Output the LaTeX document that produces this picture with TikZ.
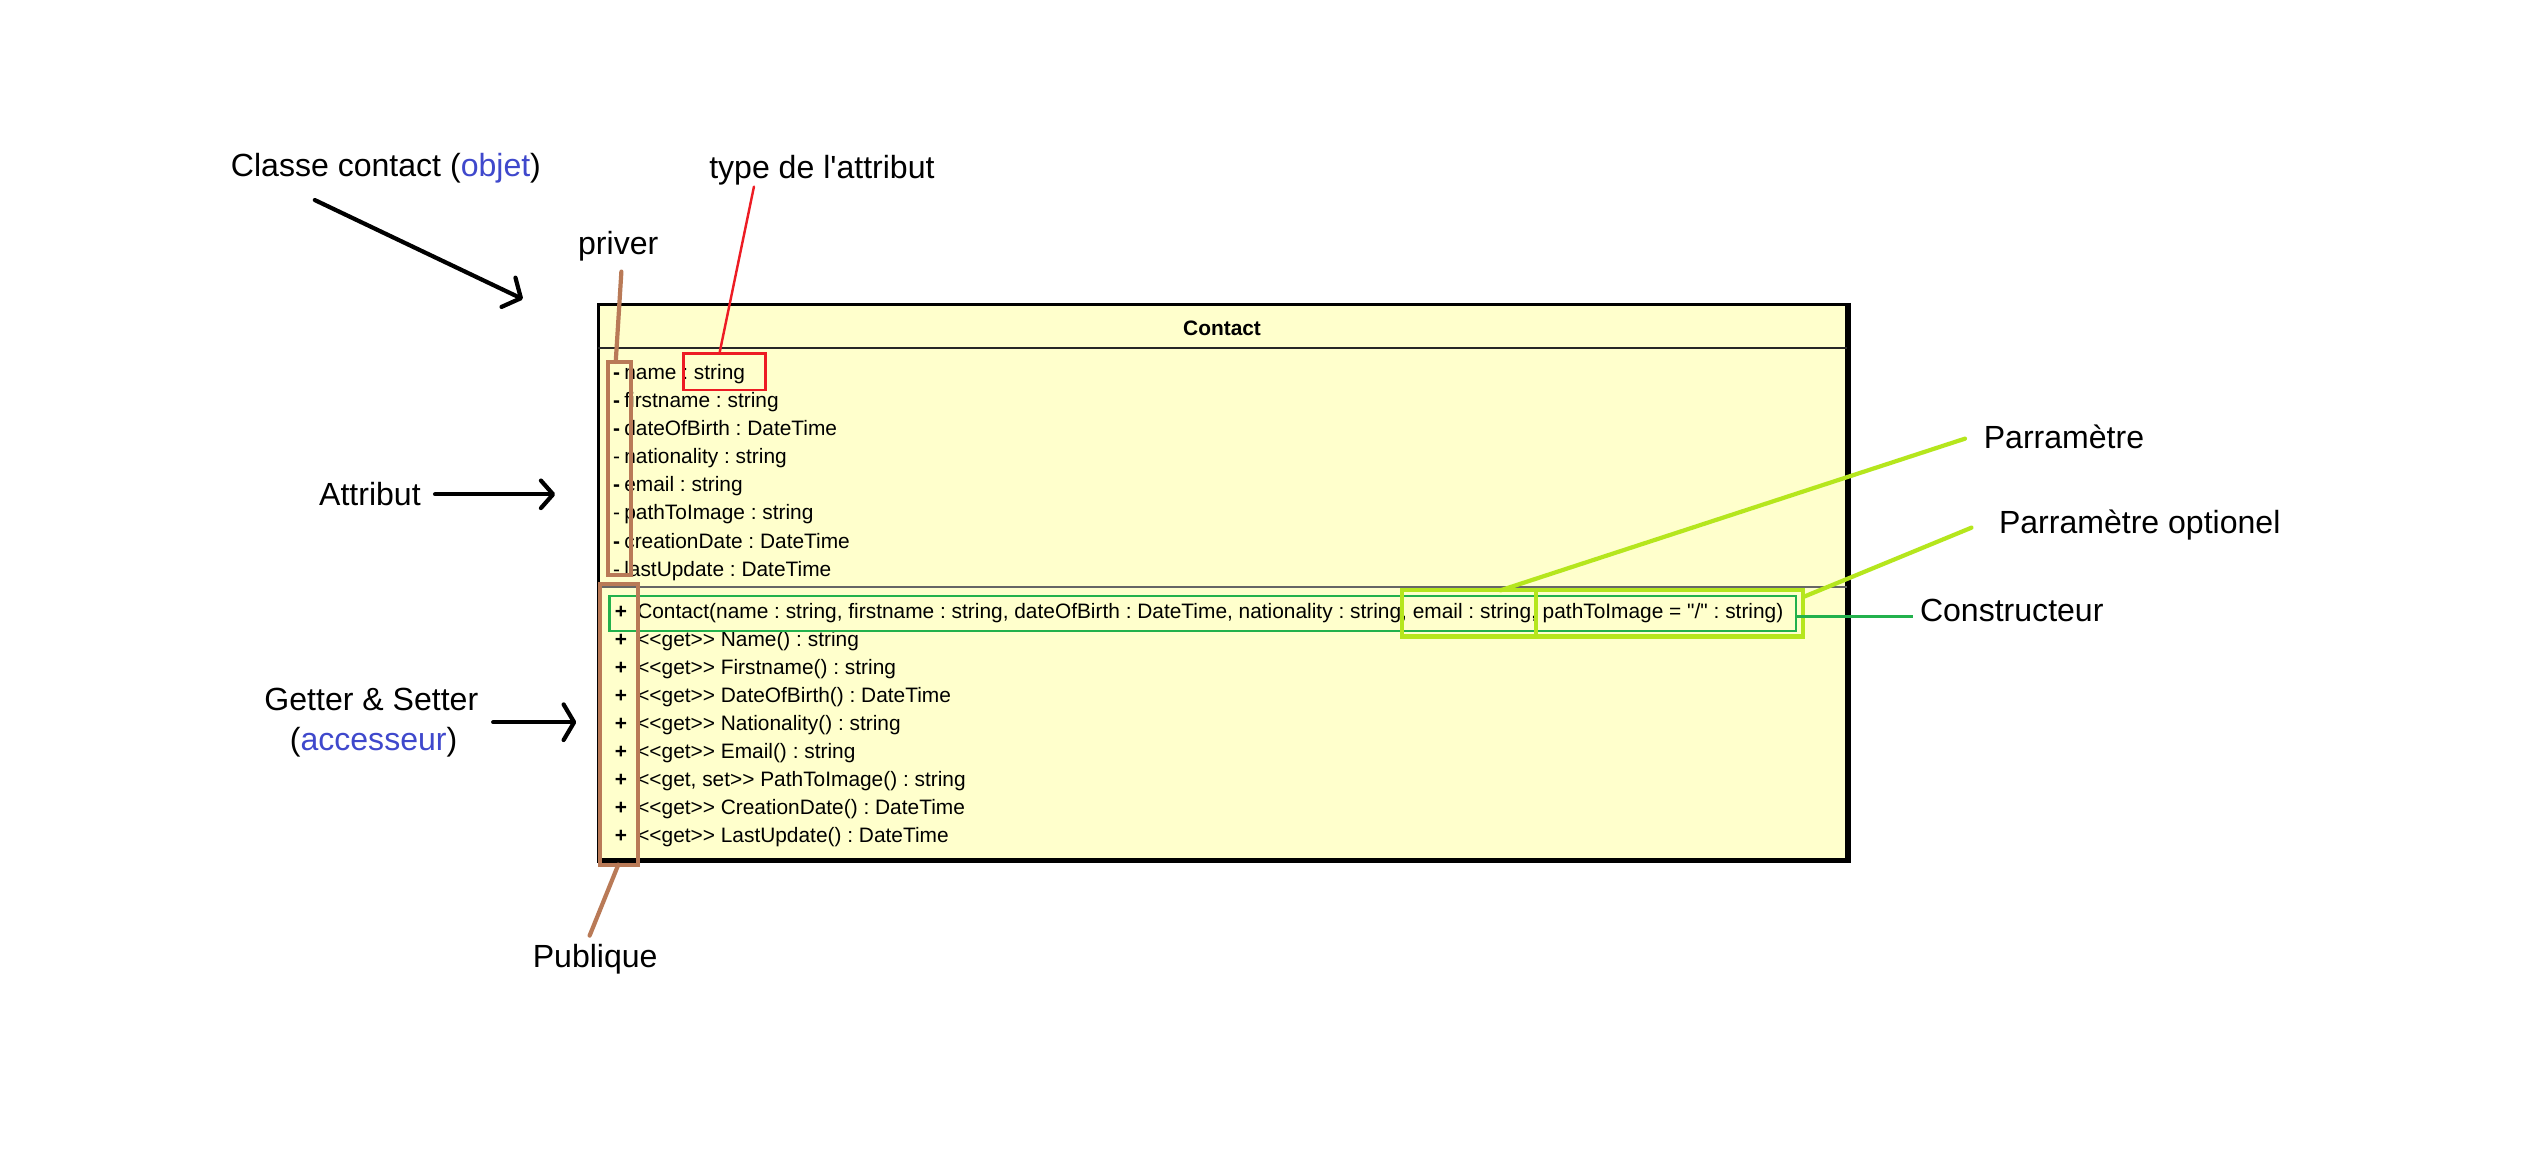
\documentclass[tikz,border=0pt]{standalone}
\usepackage{fontspec}
\setmainfont{Liberation Sans}[Ligatures=TeXOff]
\usetikzlibrary{arrows.meta}
\definecolor{pblue}{HTML}{3F48CC}
\definecolor{pred}{HTML}{ED1C24}
\definecolor{pbrown}{HTML}{B97A57}
\definecolor{pgreen}{HTML}{22B14C}
\definecolor{plime}{HTML}{B5E61D}
\definecolor{umlfill}{HTML}{FFFFCC}
\newcommand{\lblsize}{\fontsize{19.8}{24}\selectfont}
\newcommand{\umlsize}{\fontsize{12.9}{15}\selectfont}
\frenchspacing
\begin{document}
\frenchspacing
\begin{tikzpicture}[x=1pt,y=-1pt,
  lbl/.style={font=\lblsize, inner sep=0pt, anchor=base west},
  uml/.style={font=\umlsize, inner sep=0pt, anchor=base west},
  vis/.style={font=\umlsize, inner sep=0pt, anchor=base},
  visb/.style={font=\umlsize\bfseries, inner sep=0pt, anchor=base},
  hbox/.style={rectangle, inner sep=0pt, fill=none},
  blackarrow/.style={line width=2.6pt, line cap=round},
  thinline/.style={line cap=round}
]
\useasboundingbox (0,0) rectangle (1568,719);
\fill[white] (0,0) rectangle (1568,719);

% class box
\node[hbox, draw=black, fill=umlfill, line width=1.8pt, minimum width=771.5pt, minimum height=343pt] (cls) at (755.25,359.5) {};
\draw[line width=3pt] (cls.north east) -- (cls.south east) -- (cls.south west);
\draw[line width=1.5pt, black!85] (369.5,215) -- (1141,215);
\draw[line width=1.2pt, black!60] (369.5,362.5) -- (1141,362.5);
\node[font=\umlsize\bfseries, inner sep=0pt, anchor=base] (title) at (755,207.5) {Contact};

% attributes
\node[visb] (d1) at (381,234.5) {-};
\node[uml] (a1) at (385.5,234.5) {name : string};
\node[visb] (d2) at (381,251.85) {-};
\node[uml] (a2) at (385.5,251.85) {firstname : string};
\node[visb] (d3) at (381,269.2) {-};
\node[uml] (a3) at (385.5,269.2) {dateOfBirth : DateTime};
\node[vis] (d4) at (381,286.55) {-};
\node[uml] (a4) at (385.5,286.55) {nationality : string};
\node[visb] (d5) at (381,303.9) {-};
\node[uml] (a5) at (385.5,303.9) {email : string};
\node[vis] (d6) at (381,321.25) {-};
\node[uml] (a6) at (385.5,321.25) {pathToImage : string};
\node[visb] (d7) at (381,338.6) {-};
\node[uml] (a7) at (385.5,338.6) {creationDate : DateTime};
\node[vis] (d8) at (381,355.95) {-};
\node[uml] (a8) at (385.5,355.95) {lastUpdate : DateTime};

% methods
\node[visb] (p1) at (383.7,382.3) {+};
\node[uml] (m1) at (393.5,382.3) {Contact(name : string, firstname : string, dateOfBirth : DateTime, nationality : string, email : string, pathToImage = "/" : string)};
\node[visb] (p2) at (383.7,399.6) {+};
\node[uml] (m2) at (393.5,399.6) {<{}<get>{}> Name() : string};
\node[visb] (p3) at (383.7,416.9) {+};
\node[uml] (m3) at (393.5,416.9) {<{}<get>{}> Firstname() : string};
\node[visb] (p4) at (383.7,434.2) {+};
\node[uml] (m4) at (393.5,434.2) {<{}<get>{}> DateOfBirth() : DateTime};
\node[visb] (p5) at (383.7,451.5) {+};
\node[uml] (m5) at (393.5,451.5) {<{}<get>{}> Nationality() : string};
\node[visb] (p6) at (383.7,468.8) {+};
\node[uml] (m6) at (393.5,468.8) {<{}<get>{}> Email() : string};
\node[visb] (p7) at (383.7,486.1) {+};
\node[uml] (m7) at (393.5,486.1) {<{}<get, set>{}> PathToImage() : string};
\node[visb] (p8) at (383.7,503.4) {+};
\node[uml] (m8) at (393.5,503.4) {<{}<get>{}> CreationDate() : DateTime};
\node[visb] (p9) at (383.7,520.7) {+};
\node[uml] (m9) at (393.5,520.7) {<{}<get>{}> LastUpdate() : DateTime};

% highlight boxes
\node[hbox, draw=pgreen, line width=1.4pt, minimum width=732.9pt, minimum height=21.6pt] (greenbox) at (742.95,379.1) {};
\node[hbox, draw=plime, line width=2.6pt, minimum width=82.8pt, minimum height=28.5pt] (limeA) at (907.4,378.95) {};
\node[hbox, draw=plime, line width=2.6pt, minimum width=164.9pt, minimum height=28.5pt] (limeB) at (1031.25,378.95) {};
\node[hbox, draw=pbrown, line width=2.6pt, minimum width=13.8pt, minimum height=131.7pt] (brownA) at (382.7,289.5) {};
\node[hbox, draw=pbrown, line width=2.6pt, minimum width=23.5pt, minimum height=173.2pt] (brownB) at (382.25,447.6) {};
\node[hbox, draw=pred, line width=1.6pt, minimum width=50.5pt, minimum height=22.7pt] (redbox) at (447.6,229.7) {};

% labels
\node[lbl] (lclass) at (142.5,109) {Classe contact (\textcolor{pblue}{objet})};
\node[lbl] (ltype) at (438,110) {type de l'attribut};
\node[lbl] (lpriv) at (357,157.5) {priver};
\node[lbl] (lattr) at (197,312.4) {Attribut};
\node[lbl, anchor=base] (lget) at (229.4,439) {Getter \& Setter};
\node[lbl, anchor=base] (lacc) at (230.8,463.8) {(\textcolor{pblue}{accesseur})};
\node[lbl] (lpub) at (329,598) {Publique};
\node[lbl] (lparam) at (1225.4,277) {Parramètre};
\node[lbl] (lopt) at (1234.8,329.4) {Parramètre optionel};
\node[lbl] (lcons) at (1186,384) {Constructeur};

% connector end points
\coordinate (c1s) at (194.5,123.6);
\coordinate (c1e) at (323,184.8);
\coordinate (c2s) at (268.8,305.4);
\coordinate (c2e) at (343,305.4);
\coordinate (c3s) at (304.7,446.2);
\coordinate (c3e) at (356,446.2);
\coordinate (rt) at (465.8,115.3);
\coordinate (rb) at (444.5,218.3);
\coordinate (bt) at (383.9,167.8);
\coordinate (bb) at (380.4,223.6);
\coordinate (pt) at (382,534.2);
\coordinate (pb) at (364.3,578);
\coordinate (l1s) at (927,364.7);
\coordinate (l1e) at (1214,271);
\coordinate (l2s) at (1114.6,368.6);
\coordinate (l2e) at (1218,326);
\coordinate (gs) at (1109.4,381);
\coordinate (ge) at (1182,381);

% connectors
\draw[blackarrow, -{Straight Barb[round,length=8.5pt,width=20pt]}] (c1s) -- (c1e);
\draw[blackarrow, -{Straight Barb[round,length=7.5pt,width=17pt]}] (c2s) -- (c2e);
\draw[blackarrow, -{Straight Barb[round,length=6.5pt,width=22pt]}] (c3s) -- (c3e);
\draw[pred, line width=1.5pt, thinline] (rt) -- (rb);
\draw[pbrown, line width=2.6pt, thinline] (bt) -- (bb);
\draw[pbrown, line width=2.6pt, thinline] (pt) -- (pb);
\draw[plime, line width=2.6pt, thinline] (l1s) -- (l1e);
\draw[plime, line width=2.6pt, thinline] (l2s) -- (l2e);
\draw[pgreen, line width=1.6pt] (gs) -- (ge);
\end{tikzpicture}
\end{document}
